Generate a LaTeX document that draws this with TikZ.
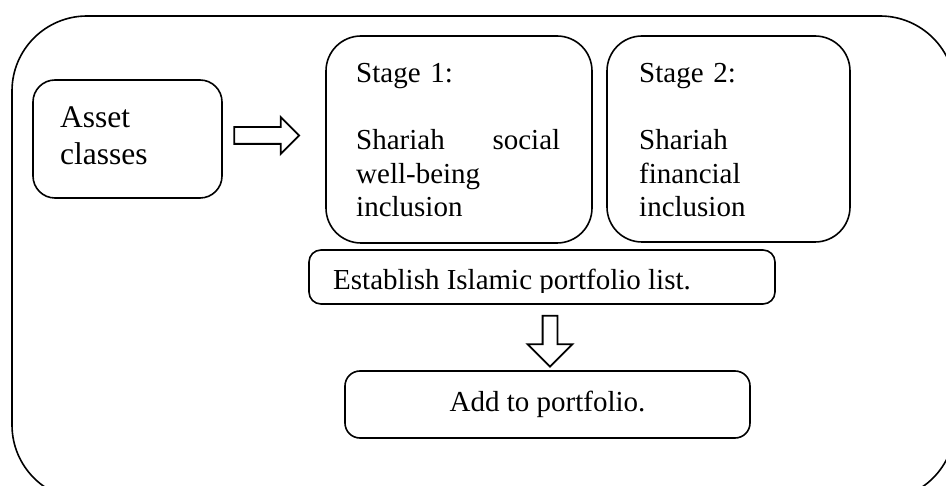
\documentclass[tikz,border=0pt]{standalone}
\usepackage{fontspec}
\setmainfont{Liberation Serif}
\usetikzlibrary{shapes.arrows}

\begin{document}
\begin{tikzpicture}[x=1pt,y=-1pt,
        box/.style={draw,line width=1.6pt,rounded corners=#1,inner sep=0pt},
        txt/.style={inner sep=0pt,anchor=base west,align=left,
                    font=\fontsize{29}{33.5}\selectfont},
        fat/.style={draw,line width=1.8pt,single arrow}]

        \useasboundingbox (0,0) rectangle (946,486);

        \node[box=75, minimum width=943, minimum height=484] (frame)  at (483.5,258)  {};
        \node[box=22, minimum width=189, minimum height=118] (asset)  at (127.5,139)  {};
        \node[box=35, minimum width=266, minimum height=207] (stage1) at (459,139.5)  {};
        \node[box=35, minimum width=243, minimum height=206] (stage2) at (728.5,139)  {};
        \node[box=12, minimum width=466, minimum height=54]  (list)   at (542,277)    {};
        \node[box=15, minimum width=405, minimum height=67,
              font=\fontsize{29}{33.5}\selectfont]          (add)    at (547.5,404.5) {Add to portfolio.};

        \node[txt, text width=150, font=\fontsize{31.5}{37}\selectfont] (assettxt) at (60,128) {Asset\\classes};
        \node[txt, text width=204] (stage1txt) at (356,83)
              {Stage 1:\\[33.5pt]Shariah\hspace{0pt plus 1filll}social\\well-being\\inclusion};
        \node[txt, text width=200] (stage2txt) at (639,83)
              {Stage 2:\\[33.5pt]Shariah\\financial\\inclusion};
        \begin{scope}
          \clip (309,250) rectangle (775,293);
          \node[txt] (listtxt) at (333,290) {Establish Islamic portfolio list.};
        \end{scope}

        \node[fat, inner sep=7.5pt, single arrow head extend=10pt, minimum height=65]
              (toright) at (262.5,135.5) {};
        \node[fat, inner sep=6.5pt, single arrow head extend=15pt, minimum height=51, rotate=-90]
              (todown) at (550,337.5) {};
\end{tikzpicture}
\end{document}
